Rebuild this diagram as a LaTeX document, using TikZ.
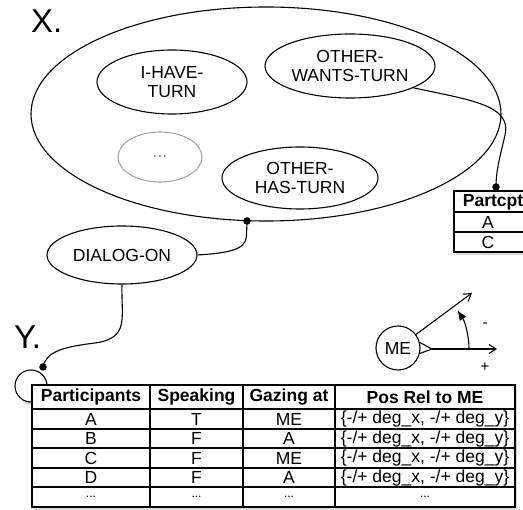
\documentclass[tikz,border=0pt]{standalone}
\usepackage{fontspec}
\setmainfont{Liberation Sans}
\usetikzlibrary{shapes.geometric,arrows.meta,shadows}

\newcommand{\posrel}{\{-/+ deg\_x, -/+ deg\_y\}}

\begin{document}
\begin{tikzpicture}[x=1pt,y=-1pt,
  state/.style={draw, ellipse, line width=1.1pt, fill=white, inner sep=0pt,
    align=center, font=\fontsize{17.5}{19}\selectfont},
  conn/.style={line width=1.1pt},
  dot/.style={circle, fill=black, inner sep=0pt, minimum size=7.5pt},
  hdr/.style={font=\bfseries\fontsize{17.5}{19}\selectfont, inner sep=0pt},
  cell/.style={font=\fontsize{17.5}{19}\selectfont, inner sep=0pt},
  tshadow/.style={drop shadow={opacity=0.3, shadow xshift=2pt, shadow yshift=-3pt}},
  biglabel/.style={font=\fontsize{33}{33}\selectfont, inner sep=0pt, anchor=base west},
  grid/.style={line width=1.2pt},
  openarrow/.style={line width=1.1pt, -{Straight Barb[length=7pt,width=9pt]}},
]
\clip (0,0) rectangle (523,510);
\fill[white] (0,0) rectangle (523,510);

% ---- state X: the turn-taking states ----
\node[biglabel] (xlab) at (31,33) {X.};
\node[state, minimum width=470pt, minimum height=214pt] (stateX) at (266,114) {};
\node[state, minimum width=150pt, minimum height=64pt] (have) at (172,82) {I-HAVE-\\TURN};
\node[state, minimum width=170pt, minimum height=64pt] (wants) at (350,66) {OTHER-\\WANTS-TURN};
\node[state, draw=gray!70, text=gray, minimum width=84pt, minimum height=50pt] (more) at (160,157) {...};
\node[state, minimum width=156pt, minimum height=62pt] (hast) at (300,178) {OTHER-\\HAS-TURN};

\node[state, minimum width=150pt, minimum height=58pt] (dialog) at (122,255) {DIALOG-ON};

% ---- small participant table ----
\node[draw, line width=1.5pt, fill=white, tshadow, minimum width=78pt, minimum height=61pt,
      inner sep=0pt] (ptab) at (493,221.5) {};
\draw[grid] (454,212) -- (532,212);
\draw[grid] (454,232) -- (532,232);
\node[hdr] (ph) at (493,202) {Partcpt};
\node[cell] (pa) at (488,222) {A};
\node[cell] (pc) at (488,242) {C};

% ---- state Y ----
\node[biglabel] (ylab) at (14,349) {Y.};
\node[circle, draw, line width=1.1pt, fill=white, tshadow, minimum size=32pt, inner sep=0pt] (ycirc) at (31,386) {};

% main participant table
\node[draw, line width=1.5pt, fill=white, tshadow, minimum width=483pt, minimum height=122pt,
      inner sep=0pt] (mtab) at (273.5,446) {};
\foreach \yy in {409,429,448,468,487} \draw[grid] (32,\yy) -- (515,\yy);
\foreach \xx in {150,243,335} \draw[grid] (\xx,385) -- (\xx,507);

\node[hdr] (h1) at (91,397) {Participants};
\node[hdr] (h2) at (196.5,397) {Speaking};
\node[hdr] (h3) at (289,397) {Gazing at};
\node[hdr] (h4) at (425,397) {Pos Rel to ME};
\foreach \a/\b/\c/\d/\yy [count=\i] in {A/T/ME/\posrel/419, B/F/A/\posrel/438.5,
    C/F/ME/\posrel/458, D/F/A/\posrel/477.5} {
  \node[cell] (r\i-1) at (91,\yy) {\a};
  \node[cell] (r\i-2) at (196.5,\yy) {\b};
  \node[cell] (r\i-3) at (289,\yy) {\c};
  \node[cell] (r\i-4) at (425,\yy) {\d};
}
\foreach \xx [count=\j] in {91,196.5,289,425}
  \node[cell, font=\fontsize{12}{12}\selectfont] (r5-\j) at (\xx,497) {...};

% ---- ME with its gaze angle ----
\node[circle, draw, line width=1.1pt, minimum size=44pt, inner sep=0pt,
      font=\fontsize{17.5}{19}\selectfont] (me) at (398,348) {ME};
\coordinate (tip) at (432,349);
\draw[line width=1.1pt] (me.14) -- (tip) -- (me.-14);
\coordinate (hend) at (497,349);
\coordinate (aend) at (472,293);
\draw[openarrow] (tip) -- (hend);
\draw[openarrow] (me.37) -- (aend);
\draw[line width=1.1pt, -{Latex[length=10pt,width=8pt]}] (469,349) arc[start angle=0, end angle=-33, radius=71];
\node[font=\fontsize{15}{15}\selectfont, inner sep=0pt] (minus) at (485,325) {-};
\node[font=\fontsize{15}{15}\selectfont, inner sep=0pt] (plus) at (485,367) {+};

% ---- connectors ----
\node[dot] (pdot) at (496,187) {};
\node[dot] (xdot) at (247,221) {};
\node[dot] (ydot) at (43,367) {};

\draw[conn] (wants.-19) .. controls (470,100) and (512,105) .. (505,135)
  .. controls (500,157) and (496,170) .. (pdot.center);
\draw[conn] (dialog.east) .. controls (228,253) and (246,250) .. (246.5,236) -- (xdot.center);
\draw[conn] (dialog.south) .. controls (121,318) and (130,338) .. (95,343)
  .. controls (62,347) and (46,352) .. (ydot.center);
\end{tikzpicture}
\end{document}
